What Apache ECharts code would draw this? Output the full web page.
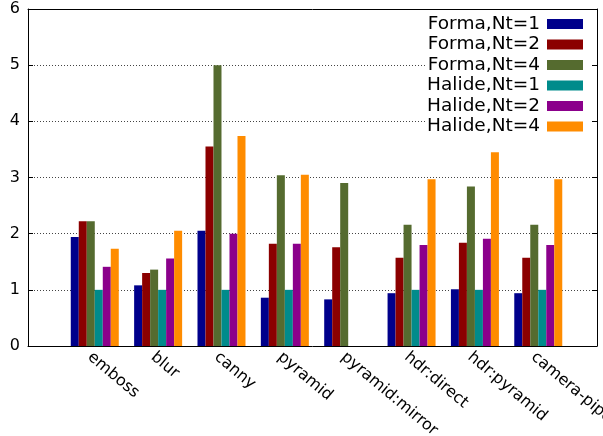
<!DOCTYPE html>
<html>
<head>
<meta charset="utf-8">
<script src="https://cdn.jsdelivr.net/npm/echarts@6/dist/echarts.min.js"></script>
<style>
  html, body { margin: 0; padding: 0; background: #fff; }
  #chart { width: 603px; height: 436px; }
</style>
</head>
<body>
<div id="chart"></div>
<script>
var categories = ["emboss", "blur", "canny", "pyramid", "pyramid:mirror", "hdr:direct", "hdr:pyramid", "camera-pipe"];
var seriesNames = ["Forma,Nt=1", "Forma,Nt=2", "Forma,Nt=4", "Halide,Nt=1", "Halide,Nt=2", "Halide,Nt=4"];
var formaNt1 = [1.94, 1.08, 2.05, 0.86, 0.83, 0.94, 1.01, 0.94];
var formaNt2 = [2.22, 1.30, 3.55, 1.82, 1.76, 1.57, 1.84, 1.57];
var formaNt4 = [2.22, 1.36, 5.00, 3.04, 2.90, 2.16, 2.84, 2.16];
var halideNt1 = [1.0, 1.0, 1.0, 1.0, null, 1.0, 1.0, 1.0];
var halideNt2 = [1.41, 1.56, 2.0, 1.82, null, 1.80, 1.91, 1.80];
var halideNt4 = [1.73, 2.05, 3.74, 3.05, null, 2.97, 3.45, 2.97];
var yTicks = [0, 1, 2, 3, 4, 5, 6];

var colors = ["#00008b", "#8b0000", "#556b2f", "#008b8b", "#8b008b", "#ff8c00"];
var values = [formaNt1, formaNt2, formaNt4, halideNt1, halideNt2, halideNt4];
var font = "DejaVu Sans";

// bars sit on a value axis so the clusters can be placed like gnuplot does
function toPoints(arr) {
  var pts = [];
  for (var i = 0; i < arr.length; i++) {
    if (arr[i] !== null) pts.push([i, arr[i]]);
  }
  return pts;
}

var catIdx = [];
for (var c = 0; c < categories.length; c++) catIdx.push(c);

var series = [];
for (var s = 0; s < seriesNames.length; s++) {
  series.push({
    name: seriesNames[s],
    type: "bar",
    barWidth: 8,
    barGap: "0%",
    itemStyle: { color: colors[s] },
    data: toPoints(values[s])
  });
}

var chart = echarts.init(document.getElementById("chart"));
var option = {
  animation: false,
  textStyle: { fontFamily: font },
  legend: {
    orient: "vertical",
    right: 11,
    top: 13,
    align: "right",
    itemWidth: 36,
    itemHeight: 10,
    itemGap: 0.5,
    padding: [1, 9, 1, 2],
    backgroundColor: "#fff",
    icon: "rect",
    textStyle: { fontSize: 18.5, color: "#000", fontFamily: font, lineHeight: 20, padding: [0, 2, 0, 0] },
    data: seriesNames
  },
  grid: { left: 28, right: 6, top: 9, bottom: 90, containLabel: false, outerBoundsMode: "none" },
  xAxis: [
    {
      type: "value",
      min: -1.054,
      max: 7.927,
      splitLine: { show: false },
      axisTick: { show: false },
      axisLine: { lineStyle: { color: "#000", width: 1 } },
      axisLabel: {
        customValues: catIdx,
        rotate: -40,
        margin: 3,
        verticalAlign: "top",
        fontSize: 16,
        fontFamily: font,
        color: "#000",
        hideOverlap: false,
        formatter: function (v) {
          var r = Math.round(v);
          if (Math.abs(v - r) > 1e-6 || r < 0 || r >= categories.length) return "";
          return categories[r];
        }
      }
    },
    {
      type: "value",
      position: "top",
      min: -1.054,
      max: 7.927,
      axisLine: { show: true, onZero: false, lineStyle: { color: "#000", width: 1 } },
      axisTick: { show: false },
      axisLabel: { show: false },
      splitLine: { show: false }
    }
  ],
  yAxis: [
    {
      type: "value",
      min: yTicks[0],
      max: yTicks[yTicks.length - 1],
      interval: 1,
      axisLine: { show: true, onZero: false, lineStyle: { color: "#000", width: 1 } },
      axisTick: { show: true, inside: true, length: 5, lineStyle: { color: "#000" } },
      axisLabel: { fontSize: 16, fontFamily: font, color: "#000", margin: 8 },
      splitLine: { show: true, lineStyle: { type: [1, 2], color: "#444", width: 1 } }
    },
    {
      type: "value",
      position: "right",
      min: yTicks[0],
      max: yTicks[yTicks.length - 1],
      interval: 1,
      axisLine: { show: true, onZero: false, lineStyle: { color: "#000", width: 1 } },
      axisTick: { show: true, inside: true, length: 5, lineStyle: { color: "#000" } },
      axisLabel: { show: false },
      splitLine: { show: false }
    }
  ],
  series: series
};
chart.setOption(option);
</script>
</body>
</html>
